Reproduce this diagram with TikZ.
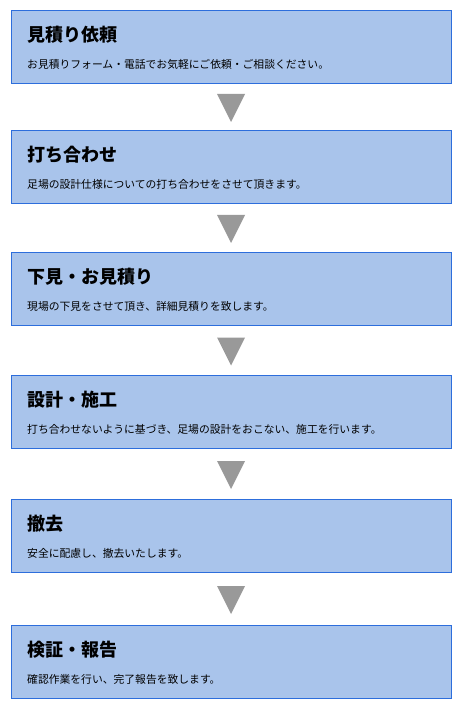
\documentclass[tikz,border=0pt]{standalone}
\usepackage{fontspec}
\setmainfont{Noto Sans CJK JP}
\usetikzlibrary{calc}
\definecolor{boxfill}{RGB}{169,196,235}
\definecolor{boxline}{RGB}{45,110,220}
\definecolor{arrowgray}{RGB}{153,153,153}
\tikzset{
  stepbox/.style={draw=boxline, line width=1pt, fill=boxfill, minimum width=440pt, minimum height=73pt, inner sep=0pt, anchor=north west},
  steptitle/.style={anchor=west, inner sep=0pt, font=\fontsize{18pt}{20pt}\selectfont\bfseries},
  steptext/.style={anchor=west, inner sep=0pt, font=\fontsize{10.8pt}{12pt}\selectfont},
  flowtri/.style={fill=arrowgray}
}
\begin{document}
\begin{tikzpicture}[x=1pt,y=-1pt]
\useasboundingbox (0,0) rectangle (460,708);
\foreach \i/\t/\ti/\tx in {
  1/10/見積り依頼/お見積りフォーム・電話でお気軽にご依頼・ご相談ください。,
  2/130/打ち合わせ/足場の設計仕様についての打ち合わせをさせて頂きます。,
  3/252/下見・お見積り/現場の下見をさせて頂き、詳細見積りを致します。,
  4/375/設計・施工/打ち合わせないように基づき、足場の設計をおこない、施工を行います。,
  5/499/撤去/安全に配慮し、撤去いたします。,
  6/625/検証・報告/確認作業を行い、完了報告を致します。}{
  \node[stepbox] (b\i) at (10.5,\t) {};
  \node[steptitle] (t\i) at (27,\t+25) {\ti};
  \node[steptext] (s\i) at (27,\t+54) {\tx};
}
\foreach \a/\b in {1/2,2/3,3/4,4/5,5/6}{
  \coordinate (m\a) at ($(b\a.south)!0.5!(b\b.north)$);
  \fill[flowtri] ($(m\a)+(-14,-13)$) -- ($(m\a)+(14,-13)$) -- ($(m\a)+(0,15)$) -- cycle;
}
\end{tikzpicture}
\end{document}
